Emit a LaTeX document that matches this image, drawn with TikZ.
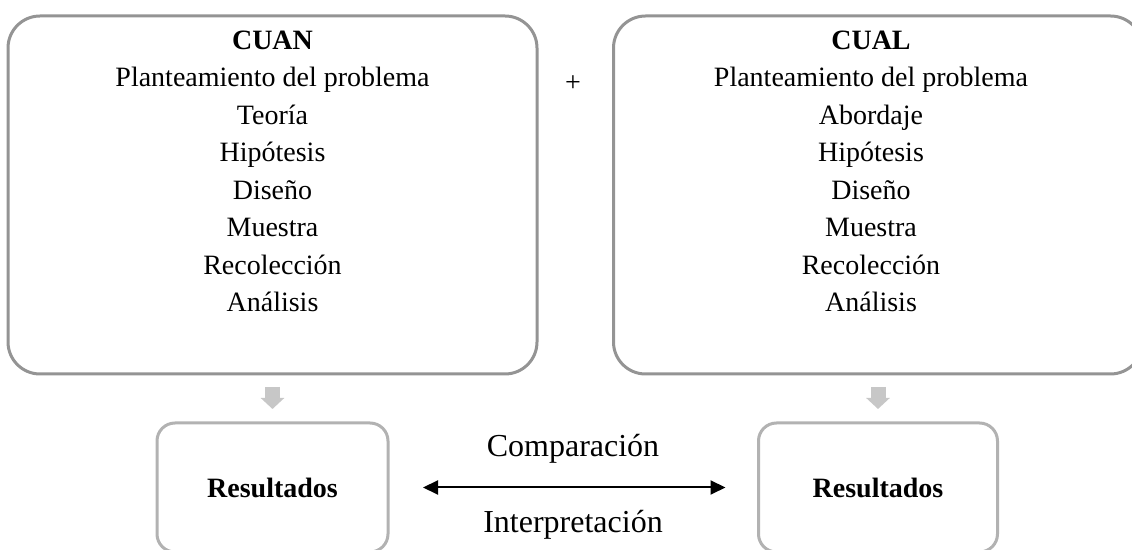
\documentclass[tikz,border=0pt]{standalone}
\usepackage{fontspec}
\setmainfont{Liberation Serif}
\usetikzlibrary{arrows.meta,positioning}
\tikzset{
    %Define standard arrow tip
    >={Triangle[length=7.5pt,width=7pt]},
    %Define style for the big panels
    panel/.style={
           draw=black!42, line width=1.5pt,
           rounded corners=16pt,
           outer sep=0pt,
           minimum width=264.5pt,
           minimum height=179pt},
    %Define style for the result boxes
    resbox/.style={
           draw=black!30, line width=1.5pt,
           rounded corners=9pt,
           outer sep=0pt,
           minimum height=64.5pt,
           font=\fontsize{14}{17}\selectfont\bfseries},
    % Define arrow style
    pil/.style={
           <->,
           line width=1pt,
           shorten <=17.5pt,
           shorten >=16.5pt,}
}
\begin{document}
\begin{tikzpicture}[x=0.5pt,y=-0.5pt,
lista/.style={align=center, inner sep=0pt, anchor=base,
    font=\fontsize{14}{18.75}\selectfont},
etiq/.style={inner sep=0pt, anchor=base, font=\fontsize{16}{19}\selectfont},
 % Define block arrow style
    bloque/.style={
           -{Triangle[length=5.5pt,width=11.5pt]},
           draw=black!22,
           line width=7.5pt,
           shorten <=6.5pt,
           shorten >=7pt,}
]
\useasboundingbox (0,0) rectangle (1132,550);
%Nodes
\node[panel] (cuanbox) at (272.5,195) {};
\node[panel] (cualbox) at (878,195) {};
\node[lista] (cuanlist) at (272.5,312) {\textbf{CUAN}\\Planteamiento del problema\\Teoría\\Hipótesis\\Diseño\\Muestra\\Recolección\\Análisis};
\node[lista] (cuallist) at (871,312) {\textbf{CUAL}\\Planteamiento del problema\\Abordaje\\Hipótesis\\Diseño\\Muestra\\Recolección\\Análisis};
\node[font=\fontsize{14}{17}\selectfont] (mas) at (573,84) {+};
\node[resbox, minimum width=115.5pt] (cuanres) at (272.5,487.5) {Resultados};
\node[resbox, minimum width=119.5pt] (cualres) at (878,487.5) {Resultados};
%Arrows
\draw[bloque] (cuanbox) -- (cuanres);
\draw[bloque] (cualbox) -- (cualres);
\draw[pil] (cuanres) -- (cualres);
\node[etiq] (comp) at (573,457) {Comparación};
\node[etiq] (interp) at (573,533) {Interpretación};
\end{tikzpicture}
\end{document}
